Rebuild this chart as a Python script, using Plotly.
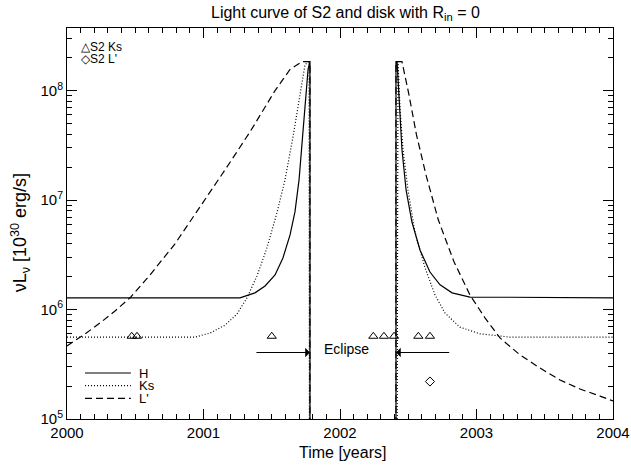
import plotly.graph_objects as go
import math

# ---------------- data ----------------
# model light curves (time in years, nuL_nu in 1e30 erg/s); 1.0 = eclipsed (no flux)
H_t = [2000.0, 2001.267, 2001.377, 2001.451, 2001.524, 2001.582, 2001.634, 2001.670,
       2001.700, 2001.729, 2001.751, 2001.766, 2001.780, 2001.780,
       2002.410, 2002.410, 2002.418, 2002.432, 2002.454, 2002.484, 2002.527, 2002.586,
       2002.659, 2002.733, 2002.821, 2002.952, 2004.0]
H_v = [1.28e6, 1.28e6, 1.42e6, 1.64e6, 2.07e6, 2.96e6, 4.8e6, 7.8e6,
       1.53e7, 3.96e7, 9.2e7, 1.56e8, 1.84e8, 1.0,
       1.0, 1.84e8, 1.84e8, 8.3e7, 2.88e7, 1.24e7, 6.3e6, 3.5e6,
       2.2e6, 1.68e6, 1.42e6, 1.3e6, 1.28e6]

Ks_t = [2000.0, 2000.938, 2001.048, 2001.158, 2001.245, 2001.319, 2001.392, 2001.465,
        2001.538, 2001.597, 2001.656, 2001.707, 2001.744, 2001.773, 2001.780,
        2002.410, 2002.425, 2002.440, 2002.462, 2002.498, 2002.549, 2002.623, 2002.696,
        2002.769, 2002.879, 2003.026, 2003.245, 2004.0]
Ks_v = [5.6e5, 5.6e5, 6.1e5, 7.2e5, 9.1e5, 1.28e6, 2.03e6, 3.66e6,
        7.65e6, 1.53e7, 3.8e7, 9.2e7, 1.73e8, 1.84e8, 1.0,
        1.0, 1.84e8, 6.7e7, 2.88e7, 1.24e7, 5.1e6, 2.4e6, 1.36e6,
        9.3e5, 6.9e5, 6.0e5, 5.6e5, 5.6e5]

Lp_t = [2000.0, 2000.132, 2000.242, 2000.352, 2000.462, 2000.608, 2000.791, 2001.011,
        2001.158, 2001.341, 2001.524, 2001.634, 2001.722, 2001.758, 2001.780, 2001.780,
        2002.410, 2002.410, 2002.418, 2002.454, 2002.505, 2002.560, 2002.630, 2002.720,
        2002.835, 2002.952, 2003.062, 2003.172, 2003.319, 2003.465, 2003.612, 2003.758,
        2003.905, 2004.0]
Lp_v = [4.65e5, 5.98e5, 7.54e5, 9.7e5, 1.28e6, 2.07e6, 3.98e6, 1.0e7,
        1.89e7, 4.2e7, 1.0e8, 1.56e8, 1.84e8, 1.84e8, 1.84e8, 1.0,
        1.0, 1.84e8, 1.84e8, 1.84e8, 9.2e7, 3.96e7, 1.7e7, 6.6e6,
        2.73e6, 1.36e6, 8.4e5, 5.5e5, 3.85e5, 2.92e5, 2.27e5, 1.88e5,
        1.62e5, 1.46e5]

# observed S2 points
S2Ks_t = [2000.474, 2000.513, 2001.500, 2002.244, 2002.322, 2002.396, 2002.574, 2002.659]
S2Ks_v = [5.7e5, 5.7e5, 5.7e5, 5.7e5, 5.7e5, 5.7e5, 5.7e5, 5.7e5]
S2Lp_t = [2002.659]
S2Lp_v = [2.2e5]

# eclipse markers
ECL_START = 2001.780
ECL_END = 2002.410
ECL_LEFT_TAIL = 2001.377
ECL_RIGHT_TAIL = 2002.811
ECL_LEVEL = 4.05e5
ECL_LABEL_X = 2002.05

X_TICKS = [2000, 2001, 2002, 2003, 2004]
Y_TICKS = [1e5, 1e6, 1e7, 1e8]
Y_TICK_TEXT = ["10<sup>5</sup>", "10<sup>6</sup>", "10<sup>7</sup>", "10<sup>8</sup>"]

# ---------------- figure ----------------
FONT = "Liberation Sans"
fig = go.Figure()

fig.add_trace(go.Scatter(x=H_t, y=H_v, mode="lines", name="H",
                         line=dict(color="black", width=1.2)))
fig.add_trace(go.Scatter(x=Ks_t, y=Ks_v, mode="lines", name="Ks",
                         line=dict(color="black", width=1.2, dash="1px,2px")))
fig.add_trace(go.Scatter(x=Lp_t, y=Lp_v, mode="lines", name="L'",
                         line=dict(color="black", width=1.2, dash="7px,4px")))
fig.add_trace(go.Scatter(x=S2Ks_t, y=S2Ks_v, mode="markers", name="S2 Ks",
                         marker=dict(symbol="triangle-up-open", size=8,
                                     color="black", line=dict(width=1))))
fig.add_trace(go.Scatter(x=S2Lp_t, y=S2Lp_v, mode="markers", name="S2 L'",
                         marker=dict(symbol="diamond-open", size=7,
                                     color="black", line=dict(width=1))))

minor_y = [k * 10 ** d for d in range(5, 9) for k in range(2, 10)]

fig.update_layout(
    width=631, height=467,
    margin=dict(l=67, r=18, t=28, b=48, autoexpand=False),
    paper_bgcolor="white", plot_bgcolor="white",
    showlegend=False, hovermode=False,
    font=dict(family=FONT, size=15, color="black"),
    xaxis=dict(range=[2000, 2004], tickvals=X_TICKS,
               ticktext=[str(v) for v in X_TICKS], automargin=False,
               showgrid=False, zeroline=False, showline=True, linecolor="black",
               linewidth=1, mirror="ticks", ticks="inside", ticklen=10,
               tickcolor="black", tickwidth=1,
               minor=dict(dtick=0.1, ticks="inside", ticklen=5,
                          tickcolor="black", showgrid=False),
               tickfont=dict(family=FONT, size=15)),
    yaxis=dict(type="log", range=[5, 8.572], tickvals=Y_TICKS, ticktext=Y_TICK_TEXT,
               automargin=False,
               showgrid=False, zeroline=False, showline=True, linecolor="black",
               linewidth=1, mirror="ticks", ticks="inside", ticklen=10,
               tickcolor="black", tickwidth=1,
               minor=dict(tickvals=minor_y, ticks="inside", ticklen=5,
                          tickcolor="black", showgrid=False),
               tickfont=dict(family=FONT, size=15)),
)

ann = []
# title
ann.append(dict(text="Light curve of S2 and disk with R<sub>in</sub> = 0",
                xref="paper", yref="paper", x=0.51, y=1.038, showarrow=False,
                xanchor="center", yanchor="middle", font=dict(size=16)))
# axis titles
ann.append(dict(text="Time [years]", xref="paper", yref="paper", x=0.505, y=-0.085,
                showarrow=False, xanchor="center", yanchor="middle", font=dict(size=16)))
ann.append(dict(text="νL<sub>ν</sub> [10<sup>30</sup> erg/s]", xref="paper", yref="paper",
                x=-0.086, y=0.475, textangle=-90, showarrow=False,
                xanchor="center", yanchor="middle", font=dict(size=18)))
# eclipse arrows and label
ylog = math.log10(ECL_LEVEL)
ann.append(dict(x=ECL_START, y=ylog, ax=ECL_LEFT_TAIL, ay=ylog, xref="x", yref="y",
                axref="x", ayref="y", showarrow=True, arrowhead=1, arrowsize=1.6,
                arrowwidth=1, arrowcolor="black", text=""))
ann.append(dict(x=ECL_END, y=ylog, ax=ECL_RIGHT_TAIL, ay=ylog, xref="x", yref="y",
                axref="x", ayref="y", showarrow=True, arrowhead=1, arrowsize=1.6,
                arrowwidth=1, arrowcolor="black", text=""))
ann.append(dict(text="Eclipse", x=ECL_LABEL_X, y=ylog + 0.03,
                xref="x", yref="y", showarrow=False, xanchor="center",
                yanchor="middle", font=dict(size=14)))
# top-left marker legend
ann.append(dict(text="△S2 Ks", xref="paper", yref="paper", x=0.022, y=0.951,
                showarrow=False, xanchor="left", yanchor="middle", font=dict(size=12)))
ann.append(dict(text="◇S2 L'", xref="paper", yref="paper", x=0.022, y=0.921,
                showarrow=False, xanchor="left", yanchor="middle", font=dict(size=12)))
# bottom-left line legend
leg = [("H", 0.1176, "solid"), ("Ks", 0.0852, "1px,2px"), ("L'", 0.0529, "7px,4px")]
shapes = []
for name, yy, dash in leg:
    shapes.append(dict(type="line", xref="paper", yref="paper", x0=0.033, x1=0.117,
                       y0=yy, y1=yy, line=dict(color="black", width=1.2, dash=dash)))
    ann.append(dict(text=name, xref="paper", yref="paper", x=0.128, y=yy,
                    showarrow=False, xanchor="left", yanchor="middle",
                    font=dict(size=13)))

fig.update_layout(annotations=ann, shapes=shapes)
fig.write_html("out.html",
               config={"displayModeBar": False, "responsive": False},
               post_script="document.body.style.margin='0';document.body.style.overflow='hidden';")
